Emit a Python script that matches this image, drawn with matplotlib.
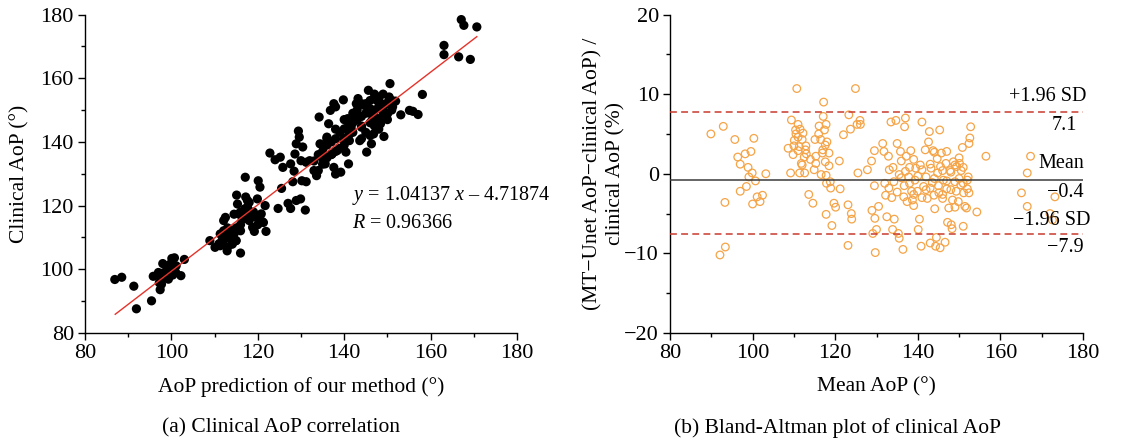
import matplotlib
matplotlib.use("Agg")
import matplotlib.pyplot as plt
import numpy as np
from matplotlib.ticker import MultipleLocator, FuncFormatter

plt.rcParams['font.family'] = ['Liberation Serif', 'DejaVu Serif']
plt.rcParams['mathtext.fontset'] = 'custom'
plt.rcParams['mathtext.it'] = 'Liberation Serif:italic'
plt.rcParams['mathtext.rm'] = 'Liberation Serif'

# ---------------- Panel (a) data: predicted vs clinical AoP ----------------
pred_aop = [
    86.9, 88.5, 91.3, 91.9, 95.4, 95.8, 97.4, 97.2, 98.0, 99.3, 99.1, 99.7, 100.1, 100.7,
    100.3, 98.9, 101.1, 102.2, 103.0, 97.3, 98.3, 97.7, 98, 99, 100, 101, 99, 97,
    108.9, 110.1, 111.3, 112.1, 112.5, 112.1, 112.9, 113.7, 114.1, 114.5, 115.3, 115.1,
    114.5, 116.0, 116.0, 117.1, 117.2, 117.6, 116.8, 118.0, 118.4, 118.8, 119.6, 119.9,
    120.1, 120.5, 121.3, 121.7, 121.9, 119.2, 116.4, 111.3, 113.3, 114.9, 111.7, 115.6,
    120.8, 117.6,
    111, 112, 113, 114, 115, 116, 117, 118, 119, 120, 113, 114, 116, 117, 118, 119, 121,
    112, 113, 115,
    122.8, 124.0, 125.2, 125.8, 125.5, 124.7, 127.0, 127.6, 127.6, 128.1, 128.4, 128.6,
    128.9, 129.4, 129.6, 128.9, 129.9, 130.2, 131.0, 131.2, 130.4, 130.0, 131.2, 132.0,
    133.6, 134.4, 134.2, 135.2, 134.8, 135.6, 136.0, 136.4, 136.8, 137.6, 138.0, 137.2,
    137.6, 138.0, 139.2, 138.4, 139.8, 140.4, 141.0, 141.2, 140.8, 140.0, 140.0, 141.6,
    142.4, 142.8, 143.2, 143.6, 144.0, 144.6, 145.2, 145.6, 146.0, 146.4, 146.3, 146.8,
    147.2, 147.6, 148.0, 148.4, 148.8, 149.2, 149.6, 150.0, 150.6, 150.4, 151.2, 151.9,
    153.1, 155.1, 155.9, 157.1, 158.1,
    133, 134, 135, 136, 137, 138, 139, 140, 141, 142, 143, 144, 145, 146, 147, 148, 149,
    150, 151, 136, 138, 140, 142, 144, 146, 148, 150, 145, 147, 149, 143, 141, 139, 137,
    135, 134, 133, 145, 147, 149, 151, 144, 146, 148, 150, 136, 138, 140, 142, 144, 146, 148,
    163.1, 163.1, 167.1, 167.7, 170.7, 166.5, 169.2,
]
clin_aop = [
    96.8, 97.5, 94.7, 87.6, 90.1, 97.8, 93.6, 95.8, 101.8, 96.9, 99.7, 101.6, 103.4, 103.6,
    98.2, 98.5, 101.1, 98.0, 103.1, 97.9, 99.0, 95.3, 97, 98, 100, 99, 101, 99,
    109.0, 106.9, 107.4, 112.1, 116.3, 115.3, 105.8, 110.0, 107.9, 111.1, 120.5, 123.3,
    117.3, 105.1, 112.1, 128.9, 122.7, 119.5, 117.4, 115.3, 117.4, 113.2, 116.3, 122.1,
    127.8, 125.8, 114.7, 120.0, 111.9, 111.9, 115.8, 111.1, 111.1, 109.0, 109.0, 117.4,
    117.4, 121.6,
    108, 109, 110, 112, 113, 114, 116, 117, 118, 114, 107, 108, 118, 119, 121, 113, 115,
    111, 113, 109,
    136.5, 134.4, 135.2, 132.0, 125.4, 119.1, 120.7, 119.1, 133.1, 127.5, 130.8, 136.2,
    139.4, 143.4, 141.5, 121.6, 122.1, 127.8, 118.6, 127.5, 138.4, 134.1, 133.6, 134.1,
    129.4, 139.4, 147.8, 138.4, 135.2, 133.1, 141.5, 145.7, 149.9, 152.0, 151.0, 136.2,
    132.0, 129.9, 130.5, 137.3, 153.2, 136.8, 133.1, 140.4, 147.3, 144.1, 140.4, 144.6,
    147.8, 152.0, 153.6, 140.4, 144.6, 151.5, 136.8, 156.2, 150.4, 146.7, 139.4, 142.5,
    147.8, 153.0, 154.1, 145.7, 149.9, 141.7, 152.0, 148.8, 158.3, 154.1, 151.0, 152.8,
    148.5, 149.9, 149.6, 148.6, 154.9,
    134, 136, 137, 139, 140, 141, 143, 141, 145, 146, 147, 148, 149, 149, 150, 151, 150,
    152, 153, 135, 137, 139, 143, 145, 146, 147, 149, 152, 155, 155, 150, 142, 138, 136,
    133, 131, 131, 143, 145, 148, 150, 141, 142, 144, 147, 141, 144, 147, 149, 152, 153, 153,
    170.3, 167.4, 178.4, 176.6, 176.1, 166.7, 165.9,
]
slope, intercept = 1.04137, -4.71874
fit_x = [87.0, 170.7]

# ---------------- Panel (b) data: Bland-Altman ----------------
ba_mean = [
    89.9, 92.9, 95.7, 96.4, 97.0, 97.0, 98.2, 98.9, 99.1, 98.5, 99.6, 99.9, 100.3, 100.7,
    100.0, 101.1, 101.8, 102.4, 103.2, 93.3, 92.1, 93.4,
    108.6, 109.2, 109.4, 109.8, 110.1, 110.4, 110.7, 111.0, 111.0, 111.3, 111.4, 111.8,
    112.2, 112.6, 112.8, 112.9, 112.0, 112.5, 113.6, 114.6, 114.9, 115.1, 115.3, 115.3,
    116.1, 116.5, 116.6, 116.9, 117.1, 117.2, 117.4, 117.6, 117.8, 117.8, 117.6, 117.9,
    117.8, 118.5, 118.5, 118.8, 118.9, 119.2, 119.7, 120.1, 121.0, 121.2, 122.0, 123.1,
    123.1, 123.3, 123.7, 123.9, 124.0, 124.9, 125.3, 125.5, 126.0, 126.1, 127.8, 128.8,
    128.9, 129.1, 129.5, 129.5, 129.6, 129.7, 130.0, 130.5,
    110, 111, 112, 113, 114, 110.5, 111.5, 116, 117, 118,
    131.5, 131.8, 132.0, 132.2, 132.5, 132.9, 133.1, 133.5, 133.7, 133.9, 134.2, 134.3,
    134.7, 135.0, 135.3, 135.5, 135.5, 135.8, 136.0, 136.4, 136.6, 136.7, 136.8, 137.0,
    137.2, 137.4, 137.8, 138.0, 138.3, 138.5, 138.7, 139.0, 139.3, 139.5, 139.9, 140.1,
    140.4, 140.6, 140.8, 141.0, 141.4, 141.8, 142.0, 142.3, 142.6, 142.8, 143.0, 143.2,
    143.5, 143.7, 143.9, 144.1, 144.3, 144.5, 144.7, 144.8, 145.1, 145.3, 145.4, 145.5,
    145.7, 146.0, 146.2, 146.6, 146.8, 147.0, 147.2, 147.5, 147.8, 148.1, 148.3, 148.4,
    148.6, 149.0, 149.3, 149.4, 149.8, 150.1, 150.4, 150.5, 150.8, 151.0, 151.1, 151.4,
    151.8, 152.0, 152.2, 152.4, 152.6, 152.8, 152.4, 154.3, 156.5,
    136, 137, 138, 139, 140, 141, 142, 143, 144, 145, 146, 147, 148, 149, 150, 151, 144,
    146, 148, 150, 139, 141, 143, 147, 149, 151, 152, 134, 133, 135,
    165.1, 166.5, 166.5, 167.3, 172.0, 173.2, 172.6,
]
ba_diff = [
    5.0, 5.95, 4.3, 2.1, 1.2, -2.2, 2.5, 0.8, -0.4, -1.6, 2.8, 0.1, 4.45, -0.9,
    -3.8, -2.9, -3.5, -2.7, 0.0, -3.6, -10.2, -9.2,
    3.2, 0.1, 6.75, 2.4, 4.2, 5.5, 10.7, 6.2, 4.6, 3.4, 0.1, 1.3,
    5.1, 0.1, 3.0, 3.5, 1.1, 2.1, -2.6, -3.7, 0.5, 4.3, 2.2, 1.3,
    6.0, 4.3, -0.1, 2.6, 7.2, 9.0, 5.5, 3.6, 6.2, -0.2, 1.5, -1.2,
    -5.1, 2.6, 1.0, -1.0, -1.8, -6.5, -3.7, -4.2, 1.6, -1.9, 4.9, -3.9,
    -9.0, 7.4, 5.6, -5.0, -5.7, 10.7, 6.2, 0.1, 6.7, 6.2, 0.5, 1.6,
    -4.6, -7.5, 2.9, -1.5, -5.6, -9.9, -7.0, -4.1,
    3.5, 2.9, 4.3, 2.5, 1.8, 5.0, 5.6, 5.0, 3.0, 4.0,
    3.8, 2.8, -1.2, -2.7, -5.4, 2.2, 0.5, 6.5, -3.0, -7.0, -1.0, -5.7,
    6.7, 3.8, -7.5, -8.1, -0.1, 2.8, 1.6, -9.5, -2.9, -1.5, 5.9, 7.0,
    2.2, -3.5, -0.4, 0.8, 2.9, -2.2, -3.3, -4.0, -0.8, 0.7, -2.2, -7.0,
    -5.7, 1.1, -9.1, 6.5, -1.6, 3.0, -0.4, -3.1, 4.0, 5.3, -8.7, 0.7,
    -1.1, 2.9, -2.7, -4.4, -9.1, -8.0, 1.9, 0.1, -2.4, 5.5, -9.3, 0.9,
    2.6, -3.1, -0.8, -8.6, 1.3, -1.9, -6.1, -4.3, 0.4, -6.4, -6.9, -3.3,
    1.5, -1.0, -2.2, 0.9, -3.5, 1.3, -1.4, 0.4, 3.3, -6.6, -2.4, -4.1,
    -4.3, -0.8, -0.4, -2.4, 4.5, 5.9, 3.8, -4.8, 2.2,
    -0.5, 0.3, -1.2, 1.8, -0.3, 0.5, -2.0, 1.2, -0.6, -1.5, 0.4, -0.9, 0.2, 1.1, -0.6, 0.8, 2.7,
    -2.6, -2.0, 2.0, -2.6, -3.0, -1.8, 2.8, -4.2, -1.2, -1.9, 0.8, -1.8, -2.3,
    -2.4, 0.1, -4.1, 2.2, -5.0, -2.9, -5.8,
]
mean_line = -0.8
upper_loa = 7.8
lower_loa = -7.55
loa_labels = ["+1.96 SD", "7.1", "Mean", "\u22120.4", "\u22121.96 SD", "\u22127.9"]
loa_label_x = [180.9, 178.6, 180.25, 180.25, 181.75, 180.25]
loa_label_y = [9.67, 6.0, 1.3, -2.4, -5.9, -9.2]

FS_TICK = 16
FS_LAB = 15.5
FS_ANN = 14.5

fig = plt.figure(figsize=(11.26, 4.41), dpi=100)
ax_bottom = 1 - 333 / 441
ax_h = (333 - 14.5) / 441
ax1 = fig.add_axes([85 / 1126, ax_bottom, 432 / 1126, ax_h])
ax2 = fig.add_axes([670 / 1126, ax_bottom, 413 / 1126, ax_h])

for ax in (ax1, ax2):
    for s in ('top', 'right'):
        ax.spines[s].set_visible(False)
    for s in ('left', 'bottom'):
        ax.spines[s].set_linewidth(1.0)
    ax.tick_params(which='major', direction='out', length=5, width=1.0,
                   labelsize=FS_TICK, pad=3)
    ax.tick_params(which='minor', direction='out', length=3, width=1.0)

# Panel (a)
ax1.scatter(pred_aop, clin_aop, s=44, color='black', edgecolors='none', zorder=2)
fx = np.array(fit_x)
ax1.plot(fx, slope * fx + intercept, color='#E5332A', lw=1.0, zorder=3)
ax1.set_xlim(80, 180)
ax1.set_ylim(80, 180)
ax1.xaxis.set_major_locator(MultipleLocator(20))
ax1.xaxis.set_minor_locator(MultipleLocator(10))
ax1.yaxis.set_major_locator(MultipleLocator(20))
ax1.yaxis.set_minor_locator(MultipleLocator(10))
ax1.set_xlabel("AoP prediction of our method (\u00b0)", fontsize=FS_LAB)
ax1.set_ylabel("Clinical AoP (\u00b0)", fontsize=FS_LAB)
ax1.xaxis.set_label_coords(0.5, -0.138)
ax1.yaxis.set_label_coords(-0.128, 0.5)
ax1.text(141.8, 123.3, "$y$ = 1.04137 $x$ \u2013 4.71874", fontsize=FS_ANN,
         ha='left', va='center', clip_on=False)
ax1.text(141.8, 114.4, "$R$ = 0.96366", fontsize=FS_ANN, ha='left', va='center')

# Panel (b)
ax2.scatter(ba_mean, ba_diff, s=30, facecolors='none', edgecolors='#F5A447',
            linewidths=0.9, zorder=2)
ax2.axhline(mean_line, color='#3a3a3a', lw=1.1, zorder=3)
ax2.axhline(upper_loa, color='#C8392E', lw=1.1, ls=(0, (4.5, 2.8)), zorder=3)
ax2.axhline(lower_loa, color='#C8392E', lw=1.1, ls=(0, (4.5, 2.8)), zorder=3)
ax2.set_xlim(80, 180)
ax2.set_ylim(-20, 20)
ax2.xaxis.set_major_locator(MultipleLocator(20))
ax2.xaxis.set_minor_locator(MultipleLocator(10))
ax2.yaxis.set_major_locator(MultipleLocator(10))
ax2.yaxis.set_minor_locator(MultipleLocator(5))
ax2.yaxis.set_major_formatter(FuncFormatter(
    lambda v, p: ("\u2212%d" % abs(v)) if v < 0 else "%d" % v))
ax2.set_xlabel("Mean AoP (\u00b0)", fontsize=FS_LAB)
ax2.set_ylabel("(MT\u2212Unet AoP\u2212clinical AoP) /\nclinical AoP (%)", fontsize=FS_LAB,
               linespacing=1.25)
ax2.xaxis.set_label_coords(0.5, -0.138)
ax2.yaxis.set_label_coords(-0.108, 0.5)
for lx, ly, t in zip(loa_label_x, loa_label_y, loa_labels):
    ax2.text(lx, ly, t, fontsize=FS_ANN, ha='right', va='center', clip_on=False)

fig.text(281 / 1126, 1 - 428 / 441, "(a) Clinical AoP correlation", fontsize=FS_LAB,
         ha='center', va='center')
fig.text(837 / 1126, 1 - 428 / 441, "(b) Bland-Altman plot of clinical AoP", fontsize=FS_LAB,
         ha='center', va='center')

fig.savefig("out.png", dpi=100)
